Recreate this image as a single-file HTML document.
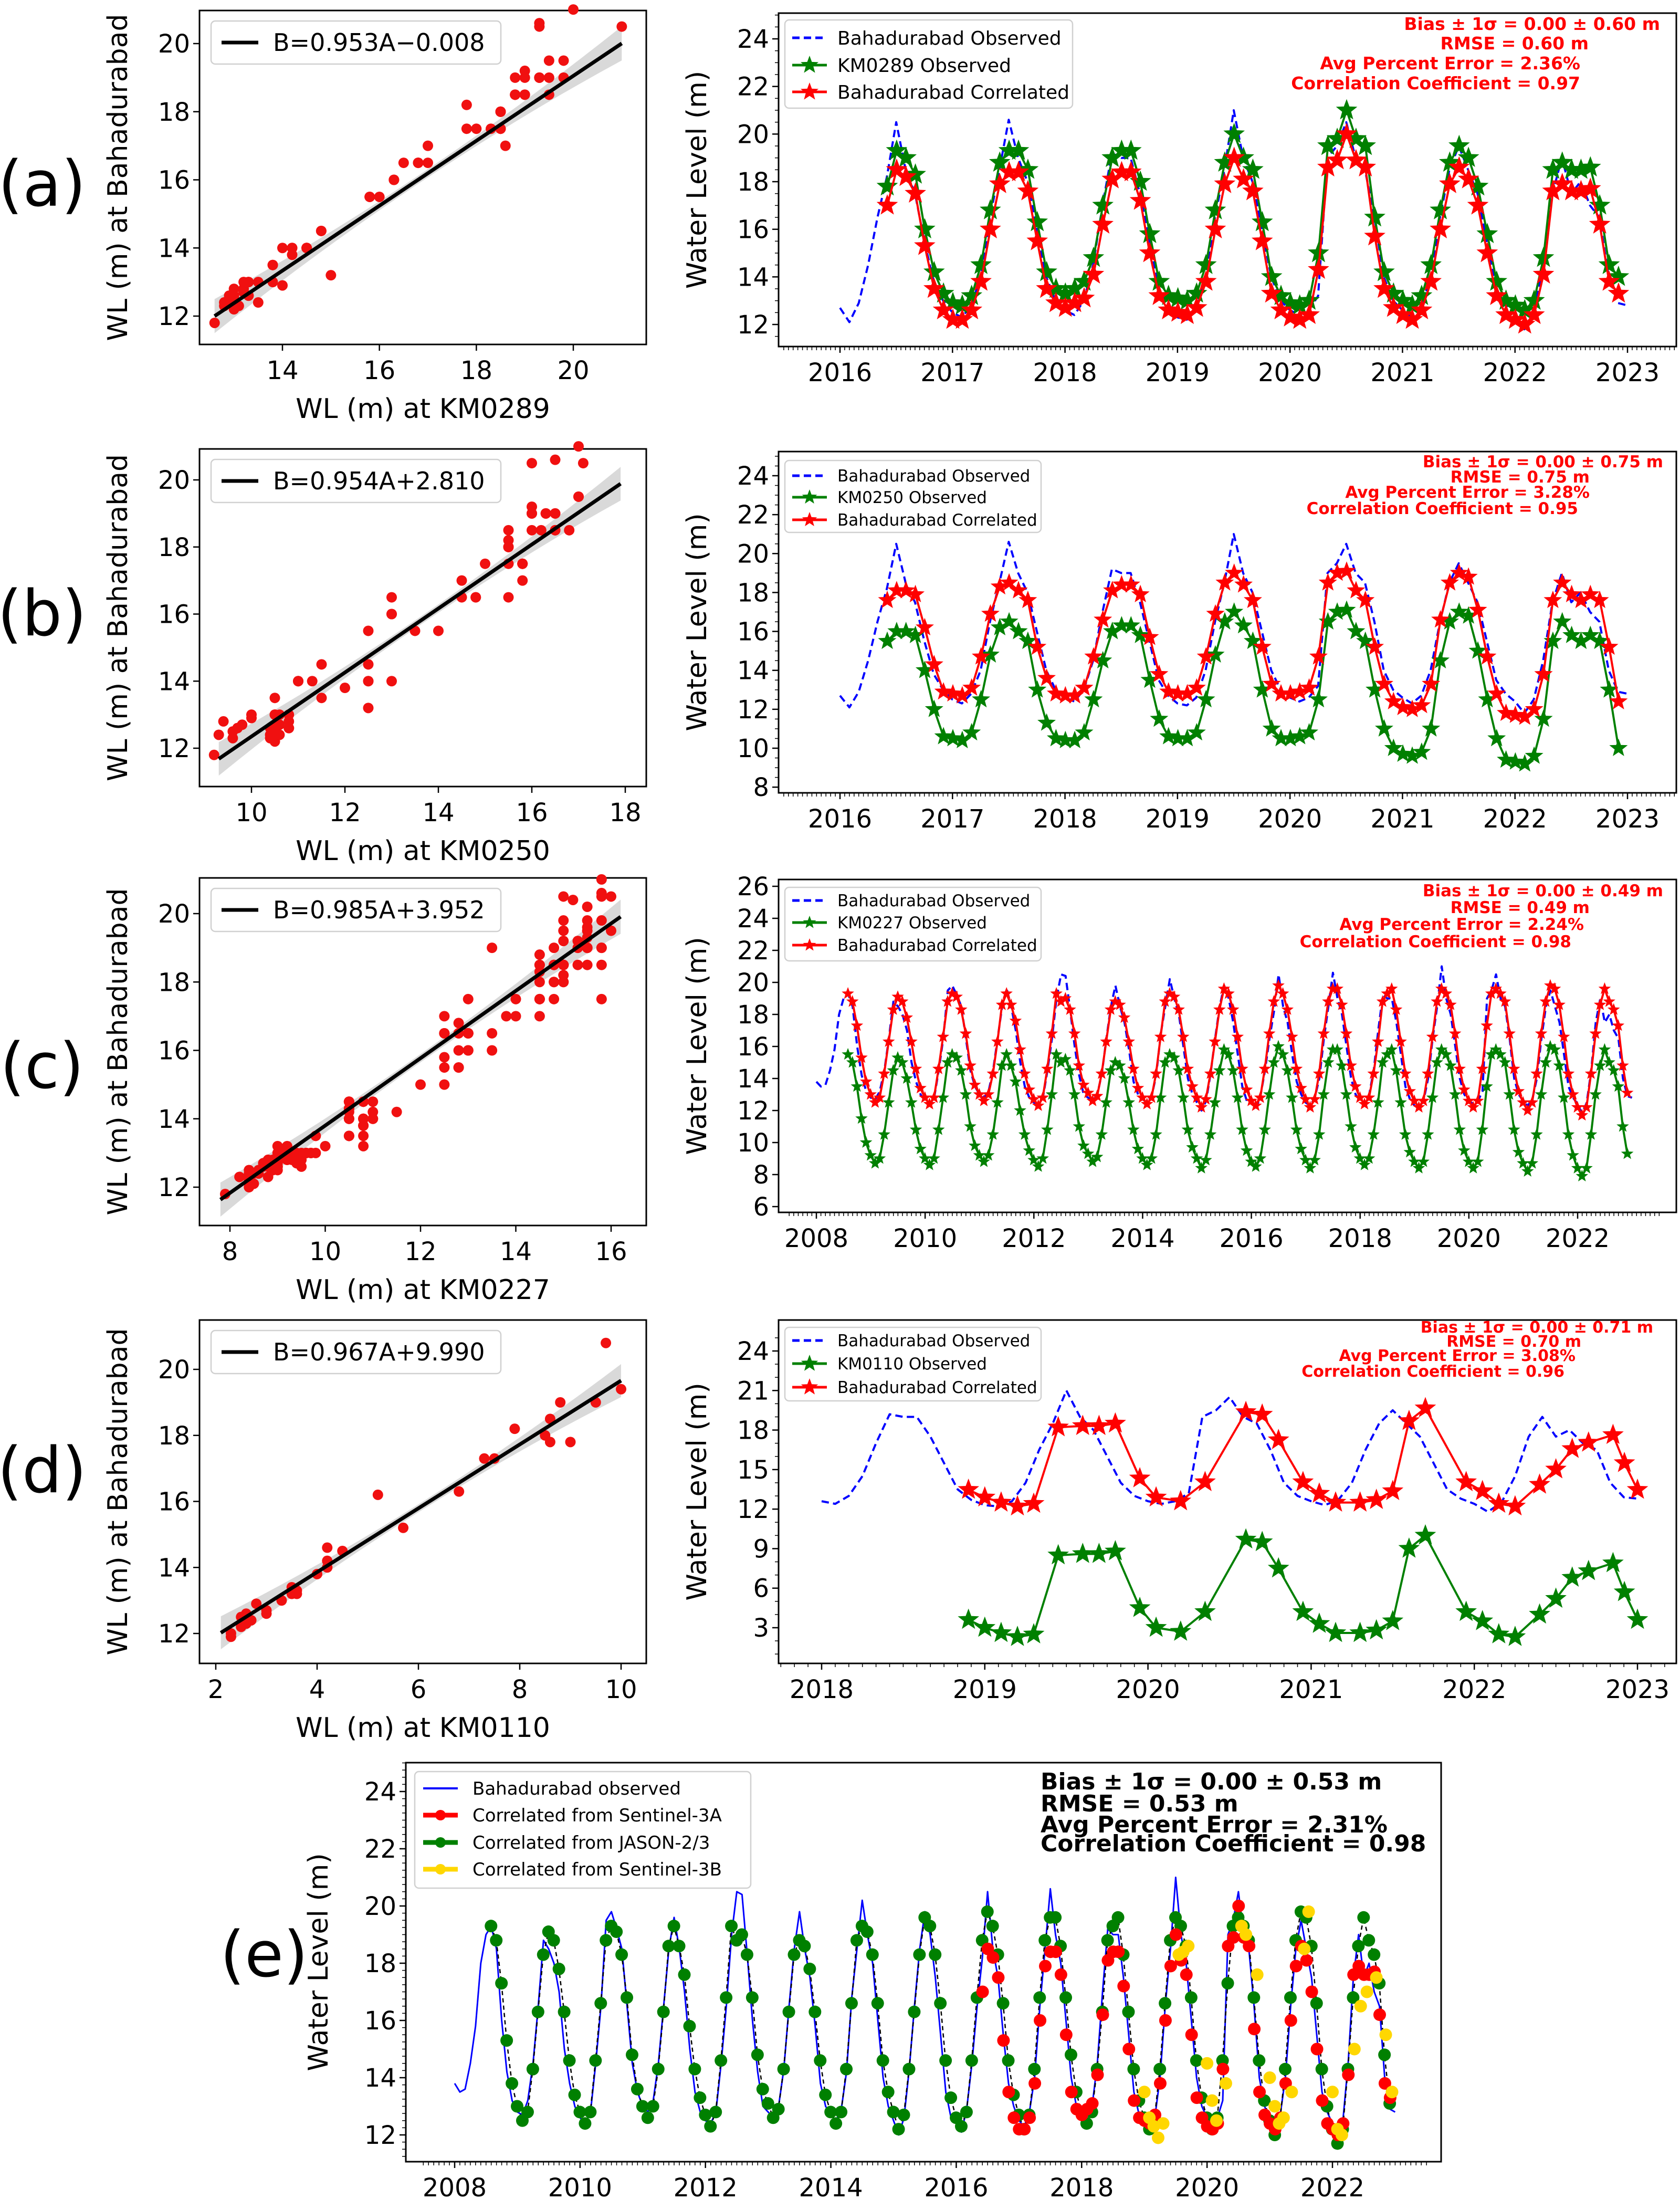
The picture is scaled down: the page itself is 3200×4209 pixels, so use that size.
<!DOCTYPE html>
<html><head><meta charset="utf-8"><title>Water level correlation figure</title>
<style>
html,body{margin:0;padding:0;background:#fff;}
svg{display:block;font-family:"DejaVu Sans","Liberation Sans",sans-serif;}
</style></head>
<body>
<svg id="fig" width="3200" height="4209" viewBox="0 0 3200 4209" xmlns="http://www.w3.org/2000/svg">
<rect x="0" y="0" width="3200" height="4209" fill="#fff"/>
</svg>
<script>
// ---------- DATA ----------
const bahaStart = 2008.0;
const bahaObs = [
13.8,13.5,13.6,14.5,15.8,18.0,19.0,19.3,18.5,16.0,14.2,13.2,
12.8,12.7,13.2,14.5,16.5,18.8,18.5,18.0,17.0,15.0,13.8,13.0,
12.6,12.4,12.8,14.5,16.5,19.5,19.8,19.2,18.5,16.5,14.5,13.5,
13.0,12.8,13.2,14.5,16.5,18.5,19.6,18.5,17.0,15.0,13.5,12.8,
12.5,12.4,12.8,14.5,16.5,19.0,20.5,20.4,18.3,16.0,14.2,13.0,
12.8,12.6,13.0,14.3,16.5,18.5,19.8,18.5,17.5,15.8,13.8,13.0,
12.7,12.5,12.9,14.2,16.8,18.5,20.2,19.0,18.0,16.0,14.0,13.0,
12.5,12.0,12.6,14.3,16.5,18.5,19.8,19.0,17.5,15.5,13.5,12.6,
12.7,12.1,12.9,14.5,16.5,18.2,20.5,18.5,17.5,15.5,13.8,13.0,
12.5,12.3,12.8,14.0,16.5,18.5,20.6,19.0,18.0,16.0,14.0,13.0,
12.6,12.4,13.0,14.5,17.0,19.2,19.0,19.0,17.5,15.5,13.5,12.7,
12.3,12.2,12.6,14.0,16.5,18.5,21.0,19.0,18.0,16.0,14.0,13.0,
12.6,12.4,12.6,13.2,19.0,19.5,20.5,19.0,18.5,16.5,14.0,13.0,
12.6,12.3,12.7,14.0,16.5,18.5,19.5,18.5,17.5,15.5,13.5,12.8,
12.4,11.8,12.5,14.5,17.5,19.0,17.5,18.0,17.0,16.5,14.0,12.9,
12.8];

const aStart = 2016.42;
const km0289Obs = [17.8,19.3,19.0,18.3,16.0,14.2,13.3,
12.9,12.8,13.2,14.5,16.8,18.8,19.3,19.3,18.5,16.3,14.2,13.5,
13.3,13.5,13.8,14.8,17.0,19.0,19.3,19.3,18.0,15.8,13.8,13.2,
13.1,13.0,13.3,14.5,16.8,18.8,20.0,19.0,18.5,16.3,14.0,13.2,
12.9,12.8,13.0,15.0,19.5,19.8,21.0,19.8,19.5,16.5,14.2,13.3,
13.0,12.8,13.2,14.5,16.8,18.8,19.5,19.0,17.8,15.8,13.8,13.0,
12.8,12.6,13.0,14.8,18.5,18.8,18.5,18.5,18.6,17.0,14.5,14.0];
const bahaCorrA = [17.0,18.5,18.2,17.5,15.3,13.5,12.6,
12.2,12.2,12.6,13.8,16.0,17.9,18.4,18.4,17.6,15.5,13.5,12.9,
12.7,12.9,13.1,14.1,16.2,18.1,18.4,18.4,17.2,15.0,13.2,12.6,
12.5,12.4,12.7,13.8,16.0,17.9,19.0,18.1,17.6,15.5,13.3,12.6,
12.3,12.2,12.4,14.3,18.6,18.9,20.0,18.9,18.6,15.7,13.5,12.7,
12.4,12.2,12.6,13.8,16.0,17.9,18.6,18.1,17.0,15.0,13.2,12.4,
12.2,12.0,12.4,14.1,17.6,17.9,17.6,17.6,17.7,16.2,13.8,13.3];
const aFit = [0.953, -0.008];

const km0250Obs = [15.5,16.0,16.0,15.8,14.0,12.0,10.6,
10.5,10.4,10.8,12.5,14.8,16.2,16.5,16.0,15.5,13.0,11.3,10.5,
10.4,10.4,10.8,12.5,14.5,16.0,16.3,16.3,15.8,13.5,11.5,10.6,
10.5,10.5,10.8,12.5,14.8,16.5,17.0,16.3,15.5,13.0,11.0,10.5,
10.5,10.6,10.8,12.5,16.5,17.0,17.1,16.0,15.5,13.0,11.0,10.0,
9.7,9.6,9.8,11.0,14.5,16.5,17.0,16.8,15.0,12.5,10.5,9.4,
9.3,9.2,9.6,11.5,15.5,16.5,15.8,15.5,15.8,15.5,13.0,10.0];
const bahaCorrB = [17.6,18.1,18.1,17.9,16.2,14.3,12.9,
12.8,12.7,13.1,14.7,16.9,18.3,18.5,18.1,17.6,15.2,13.6,12.8,
12.7,12.7,13.1,14.7,16.6,18.1,18.4,18.4,17.9,15.7,13.8,12.9,
12.8,12.8,13.1,14.7,16.9,18.5,19.0,18.4,17.6,15.2,13.3,12.8,
12.8,12.9,13.1,14.7,18.5,19.0,19.1,18.1,17.6,15.2,13.3,12.4,
12.1,12.0,12.2,13.3,16.6,18.5,19.0,18.8,17.1,14.7,12.8,11.8,
11.7,11.6,12.0,13.8,17.6,18.5,17.9,17.6,17.9,17.6,15.2,12.4];
const bFit = [0.954, 2.810];

const cStart = 2008.58;
const km0227Obs = [15.5,15.0,13.5,11.5,10.0,
9.2,8.7,9.0,10.5,12.5,14.5,15.3,15.0,14.0,12.5,10.8,9.6,
9.0,8.6,9.0,10.8,12.8,15.0,15.5,15.3,14.5,13.0,11.0,9.8,
9.2,8.8,9.2,10.5,12.5,14.8,15.5,14.8,13.8,12.0,10.5,9.5,
8.9,8.5,9.0,10.8,13.0,15.5,15.0,15.2,14.5,13.0,11.0,9.8,
9.3,8.8,9.1,10.5,12.5,14.5,15.0,14.8,14.0,12.5,10.8,9.6,
9.0,8.6,9.0,10.5,12.8,15.0,15.5,15.3,14.5,12.8,10.8,9.7,
9.0,8.4,8.9,10.5,12.5,14.5,15.8,15.5,14.5,12.8,10.8,9.5,
8.8,8.5,9.0,10.8,13.0,15.0,16.0,15.5,14.5,12.8,10.8,9.6,
8.9,8.4,8.9,10.5,13.0,15.0,15.8,15.8,14.8,13.0,11.0,9.7,
9.0,8.6,9.0,10.5,12.5,15.0,15.5,15.8,14.5,12.5,10.5,9.4,
8.8,8.4,8.8,10.5,12.8,15.0,15.8,15.5,14.8,13.0,10.8,9.5,
8.8,8.4,8.8,10.8,13.5,15.5,15.8,15.5,15.0,13.0,10.8,9.4,
8.7,8.2,8.7,10.5,13.0,15.0,16.0,15.8,14.8,12.8,10.5,9.2,
8.4,7.9,8.4,10.5,13.0,14.8,15.8,15.0,14.5,13.5,11.0,9.3];
const bahaCorrC = [19.3,18.8,17.3,15.3,13.8,
13.0,12.5,12.8,14.3,16.3,18.3,19.1,18.8,17.8,16.3,14.6,13.4,
12.8,12.4,12.8,14.6,16.6,18.8,19.3,19.1,18.3,16.8,14.8,13.6,
13.0,12.6,13.0,14.3,16.3,18.6,19.3,18.6,17.6,15.8,14.3,13.3,
12.7,12.3,12.8,14.6,16.8,19.3,18.8,19.0,18.3,16.8,14.8,13.6,
13.1,12.6,12.9,14.3,16.3,18.3,18.8,18.6,17.8,16.3,14.6,13.4,
12.8,12.4,12.8,14.3,16.6,18.8,19.3,19.1,18.3,16.6,14.6,13.5,
12.8,12.2,12.7,14.3,16.3,18.3,19.6,19.3,18.3,16.6,14.6,13.3,
12.6,12.3,12.8,14.6,16.8,18.8,19.8,19.3,18.3,16.6,14.6,13.4,
12.7,12.2,12.7,14.3,16.8,18.8,19.6,19.6,18.6,16.8,14.8,13.5,
12.8,12.4,12.8,14.3,16.3,18.8,19.3,19.6,18.3,16.3,14.3,13.2,
12.6,12.2,12.6,14.3,16.6,18.8,19.6,19.3,18.6,16.8,14.6,13.3,
12.6,12.2,12.6,14.6,17.3,19.3,19.6,19.3,18.8,16.8,14.6,13.2,
12.5,12.0,12.5,14.3,16.8,18.8,19.8,19.6,18.6,16.6,14.3,13.0,
12.2,11.7,12.2,14.3,16.8,18.6,19.6,18.8,18.3,17.3,14.8,13.1];
const cFit = [0.985, 3.952];

const dDates = [2018.9,2019.0,2019.1,2019.2,2019.3,2019.45,2019.6,2019.7,2019.8,2019.95,2020.05,2020.2,2020.35,2020.6,2020.7,2020.8,2020.95,2021.05,2021.15,2021.3,2021.4,2021.5,2021.6,2021.7,2021.95,2022.05,2022.15,2022.25,2022.4,2022.5,2022.6,2022.7,2022.85,2022.92,2023.0];
const km0110Obs = [3.6,3.0,2.6,2.3,2.5,8.5,8.6,8.6,8.8,4.5,3.0,2.7,4.2,9.7,9.5,7.5,4.2,3.3,2.6,2.6,2.8,3.5,9.0,10.0,4.2,3.5,2.5,2.3,4.0,5.2,6.8,7.3,7.9,5.7,3.6];
const bahaCorrD = [13.47,12.89,12.5,12.21,12.41,18.21,18.31,18.31,18.5,14.34,12.89,12.6,14.05,19.37,19.18,17.24,14.05,13.18,12.5,12.5,12.7,13.37,18.69,19.66,14.05,13.37,12.41,12.21,13.86,15.02,16.57,17.05,17.63,15.5,13.47];
// Bahadurabad observed on KM0110 pass dates (scatter y)
const bahaMatchD = [13.2,12.7,12.3,11.9,12.5,18.0,18.5,17.8,19.0,14.5,12.6,12.4,14.0,20.8,19.0,17.3,14.2,13.0,12.3,12.6,12.9,13.4,17.8,19.4,14.6,13.2,12.2,12.0,13.8,16.2,16.3,17.3,18.2,15.2,13.3];
const dFit = [0.967, 9.990];

const s3bDates = [2019.0,2019.08,2019.15,2019.22,2019.3,2019.55,2019.62,2019.7,2020.0,2020.08,2020.15,2020.3,2020.55,2020.62,2020.8,2021.0,2021.08,2021.15,2021.22,2021.35,2021.55,2021.62,2022.0,2022.08,2022.15,2022.35,2022.45,2022.55,2022.7,2022.85,2022.95];
const s3bCorr = [13.5,12.6,12.3,11.9,12.4,18.3,18.4,18.6,14.5,13.2,12.5,13.8,19.3,19.0,17.6,14.0,13.0,12.4,12.6,13.5,18.5,19.8,13.5,12.2,12.0,15.0,16.5,17.0,17.5,15.5,13.5];

// ---------- DRAWING ----------
const NS = 'http://www.w3.org/2000/svg';
const svg = document.getElementById('fig');
function mk(tag, attrs, name, parent){
  const el = document.createElementNS(NS, tag);
  for (const k in attrs) el.setAttribute(k, attrs[k]);
  
  
  (parent || svg).appendChild(el);
  return el;
}
function txt(x, y, s, size, name, opts){
  opts = opts || {};
  const el = mk('text', {x:x, y:y, 'font-size':size, fill:opts.fill||'#000', 'text-anchor':opts.anchor||'start',
    'font-weight':opts.weight||'normal', transform:opts.transform||''}, name);
  el.textContent = s;
  return el;
}
function lin(v0,p0,v1,p1){ return v => p0 + (v - v0) * (p1 - p0) / (v1 - v0); }
function starPts(cx, cy, r){
  let p = [];
  for (let i = 0; i < 10; i++){
    const rr = i % 2 ? r * 0.42 : r;
    const a = -Math.PI/2 + i * Math.PI / 5;
    p.push((cx + rr*Math.cos(a)).toFixed(1) + ',' + (cy + rr*Math.sin(a)).toFixed(1));
  }
  return p.join(' ');
}
function monthlyTimes(start, n){ const t=[]; for(let i=0;i<n;i++) t.push(start + i/12); return t; }
function bahaAt(t){ const i = Math.round((t - bahaStart) * 12); return bahaObs[Math.max(0, Math.min(bahaObs.length-1, i))]; }

function axes(box, xticks, sx, yticks, sy, opts, name){
  const g = mk('g', {}, name);
  mk('rect', {x:box[0], y:box[1], width:box[2]-box[0], height:box[3]-box[1], fill:'none', stroke:'#000', 'stroke-width':3}, name + '-frame', g);
  xticks.forEach(v => {
    const x = sx(v);
    mk('line', {x1:x, y1:box[3], x2:x, y2:box[3]+12, stroke:'#000', 'stroke-width':2.5}, 'x-tick', g);
    txt(x, box[3] + 66, String(v), opts.fs || 48, 'x-tick-label', {anchor:'middle'});
  });
  yticks.forEach(v => {
    const y = sy(v);
    mk('line', {x1:box[0]-12, y1:y, x2:box[0], y2:y, stroke:'#000', 'stroke-width':2.5}, 'y-tick', g);
    txt(box[0] - 18, y + 17, String(v), opts.fs || 48, 'y-tick-label', {anchor:'end'});
  });
  if (opts.minor){
    for (let t = opts.minor[0]; t <= opts.minor[1] + 1e-6; t += opts.minor[2]){
      const x = sx(t);
      if (x < box[0] || x > box[2]) continue;
      mk('line', {x1:x, y1:box[3], x2:x, y2:box[3]+7, stroke:'#000', 'stroke-width':1.5}, 'x-minor-tick', g);
    }
  }
  if (opts.yminor){
    for (let v = opts.yminor[0]; v <= opts.yminor[1] + 1e-6; v += opts.yminor[2]){
      const y = sy(v);
      if (y < box[1] || y > box[3]) continue;
      mk('line', {x1:box[0]-7, y1:y, x2:box[0], y2:y, stroke:'#000', 'stroke-width':1.5}, 'y-minor-tick', g);
    }
  }
  if (opts.xlabel) txt((box[0]+box[2])/2, box[3] + 140, opts.xlabel, 52, 'x-axis-title', {anchor:'middle'});
  if (opts.ylabel){
    const cx = box[0] - (opts.ylOff || 138), cy = (box[1]+box[3])/2;
    txt(cx, cy, opts.ylabel, 52, 'y-axis-title', {anchor:'middle', transform:'rotate(-90 ' + cx + ' ' + cy + ')'});
  }
  return g;
}
function polyline(ts, vs, sx, sy, color, w, dash, name, box){
  const pts = [];
  for (let i = 0; i < ts.length; i++){
    const x = sx(ts[i]);
    if (box && (x < box[0] || x > box[2])) continue;
    pts.push(x.toFixed(1) + ',' + sy(vs[i]).toFixed(1));
  }
  return mk('polyline', {points:pts.join(' '), fill:'none', stroke:color, 'stroke-width':w, 'stroke-dasharray':dash||'none', 'stroke-linejoin':'round'}, name);
}
function stars(ts, vs, sx, sy, color, r, name, box){
  const g = mk('g', {}, name);
  for (let i = 0; i < ts.length; i++){
    const x = sx(ts[i]);
    if (box && (x < box[0] || x > box[2])) continue;
    mk('polygon', {points:starPts(x, sy(vs[i]), r), fill:color, stroke:color, 'stroke-width':1}, name + '-marker', g);
  }
}
function dots(ts, vs, sx, sy, color, r, name){
  const g = mk('g', {}, name);
  for (let i = 0; i < ts.length; i++){
    mk('circle', {cx:sx(ts[i]), cy:sy(vs[i]), r:r, fill:color}, name + '-point', g);
  }
}
function scatterPanel(box, sx, sy, xs, ys, fit, xr, xticks, yticks, xlabel, legendText, name){
  axes(box, xticks, sx, yticks, sy, {xlabel:xlabel, ylabel:'WL (m) at Bahadurabad'}, name + '-axes');
  const up = [], dn = [];
  const mid = (xr[0] + xr[1]) / 2, half = (xr[1] - xr[0]) / 2;
  for (let k = 0; k <= 20; k++){
    const xv = xr[0] + (xr[1]-xr[0]) * k / 20;
    const u = (xv - mid) / half;
    const w = 0.12 + 0.38 * u * u;
    const yv = fit[0] * xv + fit[1];
    up.push(sx(xv).toFixed(1) + ',' + sy(yv + w).toFixed(1));
    dn.unshift(sx(xv).toFixed(1) + ',' + sy(yv - w).toFixed(1));
  }
  mk('polygon', {points:up.concat(dn).join(' '), fill:'#cfcfcf', opacity:0.8}, name + '-confidence-band');
  dots(xs, ys, sx, sy, '#f01010', 10, name + '-points');
  mk('line', {x1:sx(xr[0]), y1:sy(fit[0]*xr[0]+fit[1]), x2:sx(xr[1]), y2:sy(fit[0]*xr[1]+fit[1]), stroke:'#000', 'stroke-width':7}, name + '-regression-line');
  const lg = mk('g', {}, name + '-legend');
  mk('rect', {x:box[0]+22, y:box[1]+20, width:552, height:82, rx:8, fill:'#fff', stroke:'#d0d0d0', 'stroke-width':2.5}, name + '-legend-box', lg);
  mk('line', {x1:box[0]+42, y1:box[1]+61, x2:box[0]+112, y2:box[1]+61, stroke:'#000', 'stroke-width':7}, name + '-legend-line', lg);
  txt(box[0]+140, box[1]+77, legendText, 46, name + '-legend-text');
}
function legendTS(x, y, w, h, labels, ys, fs, mr, name){
  const g = mk('g', {}, name);
  mk('rect', {x:x, y:y, width:w, height:h, rx:8, fill:'#fff', stroke:'#d0d0d0', 'stroke-width':2.5}, name + '-box', g);
  const cols = ['#0000ff', '#008000', '#ff0000'];
  labels.forEach((lab, i) => {
    const yy = ys[i];
    if (i === 0){
      mk('line', {x1:x+14, y1:yy, x2:x+80, y2:yy, stroke:cols[0], 'stroke-width':5, 'stroke-dasharray':'14 8'}, 'legend-blue-line', g);
    } else {
      mk('line', {x1:x+14, y1:yy, x2:x+80, y2:yy, stroke:cols[i], 'stroke-width':5}, 'legend-line', g);
      mk('polygon', {points:starPts(x+47, yy, mr), fill:cols[i]}, 'legend-star', g);
    }
    txt(x + 100, yy + fs*0.36, lab, fs, 'legend-entry');
  });
}
function stats(lines, ends, ys, fs, color, name, anchor){
  const g = mk('g', {}, name);
  lines.forEach((s, i) => {
    txt(ends[i], ys[i], s, fs, 'stats-line', {anchor:anchor||'end', weight:'bold', fill:color});
  });
}

[['(a)',80,350],['(b)',80,1168],['(c)',80,2030],['(d)',80,2800],['(e)',503,3722]].forEach(p => {
  txt(p[1], p[2] + 42, p[0], 120, 'panel-label', {anchor:'middle'});
});

const tA = monthlyTimes(aStart, km0289Obs.length);
(function(){
  const box = [380,20,1231,656];
  const sx = lin(14,538,20,1092), sy = lin(20,83,12,602);
  scatterPanel(box, sx, sy, km0289Obs, tA.map(bahaAt), aFit, [12.6,21.0], [14,16,18,20], [12,14,16,18,20], 'WL (m) at KM0289', 'B=0.953A\u22120.008', 'scatter-a');
  const tb = [1483,25,3193,660];
  const tx = lin(2016,1600,2023,3100), ty = lin(24,74,12,618);
  axes(tb, [2016,2017,2018,2019,2020,2021,2022,2023], tx, [12,14,16,18,20,22,24], ty, {minor:[2015.5,2023.5,1/24], ylabel:'Water Level (m)', yminor:[11,25,0.5]}, 'timeseries-a-axes');
  polyline(monthlyTimes(bahaStart, bahaObs.length), bahaObs, tx, ty, '#0000ff', 4, '14 8', 'series-a-bahadurabad-observed', [1600,3193]);
  polyline(tA, km0289Obs, tx, ty, '#008000', 4, null, 'series-a-km0289-line');
  stars(tA, km0289Obs, tx, ty, '#008000', 20, 'series-a-km0289-markers');
  polyline(tA, bahaCorrA, tx, ty, '#ff0000', 4, null, 'series-a-correlated-line');
  stars(tA, bahaCorrA, tx, ty, '#ff0000', 20, 'series-a-correlated-markers');
  legendTS(1495, 38, 548, 168, ['Bahadurabad Observed','KM0289 Observed','Bahadurabad Correlated'], [72,124,175], 36, 18, 'legend-a');
  stats(['Bias \u00b1 1\u03c3 = 0.00 \u00b1 0.60 m','RMSE = 0.60 m','Avg Percent Error = 2.36%','Correlation Coefficient = 0.97'], [3162,3026,3010,3010], [57,94,132,170], 33, '#ff0000', 'stats-a');
})();

(function(){
  const box = [380,855,1231,1498];
  const sx = lin(10,479,18,1191), sy = lin(20,914,12,1425);
  scatterPanel(box, sx, sy, km0250Obs, tA.map(bahaAt), bFit, [9.3,17.9], [10,12,14,16,18], [12,14,16,18,20], 'WL (m) at KM0250', 'B=0.954A+2.810', 'scatter-b');
  const tb = [1483,860,3193,1510];
  const tx = lin(2016,1600,2023,3100), ty = lin(24,906,10,1425);
  axes(tb, [2016,2017,2018,2019,2020,2021,2022,2023], tx, [8,10,12,14,16,18,20,22,24], ty, {minor:[2015.5,2023.5,1/24], ylabel:'Water Level (m)', yminor:[8,25,0.5]}, 'timeseries-b-axes');
  polyline(monthlyTimes(bahaStart, bahaObs.length), bahaObs, tx, ty, '#0000ff', 4, '14 8', 'series-b-bahadurabad-observed', [1600,3193]);
  polyline(tA, km0250Obs, tx, ty, '#008000', 4, null, 'series-b-km0250-line');
  stars(tA, km0250Obs, tx, ty, '#008000', 17, 'series-b-km0250-markers');
  polyline(tA, bahaCorrB, tx, ty, '#ff0000', 4, null, 'series-b-correlated-line');
  stars(tA, bahaCorrB, tx, ty, '#ff0000', 17, 'series-b-correlated-markers');
  legendTS(1495, 877, 488, 137, ['Bahadurabad Observed','KM0250 Observed','Bahadurabad Correlated'], [906,947,990], 31, 15, 'legend-b');
  stats(['Bias \u00b1 1\u03c3 = 0.00 \u00b1 0.75 m','RMSE = 0.75 m','Avg Percent Error = 3.28%','Correlation Coefficient = 0.95'], [3168,3028,3028,3006], [890,919,948,979], 31, '#ff0000', 'stats-b');
})();

const tC = monthlyTimes(cStart, km0227Obs.length);
(function(){
  const box = [380,1672,1231,2334];
  const sx = lin(8,438,16,1164), sy = lin(20,1740,12,2261);
  scatterPanel(box, sx, sy, km0227Obs, tC.map(bahaAt), cFit, [7.8,16.2], [8,10,12,14,16], [12,14,16,18,20], 'WL (m) at KM0227', 'B=0.985A+3.952', 'scatter-c');
  const tb = [1483,1675,3193,2309];
  const tx = lin(2008,1555,2022,3005), ty = lin(26,1688,6,2298);
  axes(tb, [2008,2010,2012,2014,2016,2018,2020,2022], tx, [6,8,10,12,14,16,18,20,22,24,26], ty, {minor:[2007.5,2023.5,1/12], ylabel:'Water Level (m)'}, 'timeseries-c-axes');
  polyline(monthlyTimes(bahaStart, bahaObs.length), bahaObs, tx, ty, '#0000ff', 4, '14 8', 'series-c-bahadurabad-observed');
  polyline(tC, km0227Obs, tx, ty, '#008000', 4, null, 'series-c-km0227-line');
  stars(tC, km0227Obs, tx, ty, '#008000', 11, 'series-c-km0227-markers');
  polyline(tC, bahaCorrC, tx, ty, '#ff0000', 4, null, 'series-c-correlated-line');
  stars(tC, bahaCorrC, tx, ty, '#ff0000', 11, 'series-c-correlated-markers');
  legendTS(1495, 1690, 488, 140, ['Bahadurabad Observed','KM0227 Observed','Bahadurabad Correlated'], [1715,1757,1800], 31, 13, 'legend-c');
  stats(['Bias \u00b1 1\u03c3 = 0.00 \u00b1 0.49 m','RMSE = 0.49 m','Avg Percent Error = 2.24%','Correlation Coefficient = 0.98'], [3168,3028,3017,2993], [1707,1739,1771,1804], 31, '#ff0000', 'stats-c');
})();

(function(){
  const box = [380,2514,1231,3168];
  const sx = lin(2,411,10,1183), sy = lin(20,2608,12,3111);
  scatterPanel(box, sx, sy, km0110Obs, bahaMatchD, dFit, [2.1,10.0], [2,4,6,8,10], [12,14,16,18,20], 'WL (m) at KM0110', 'B=0.967A+9.990', 'scatter-d');
  const tb = [1483,2514,3193,3168];
  const tx = lin(2018,1565,2023,3119), ty = lin(24,2573,3,3100);
  axes(tb, [2018,2019,2020,2021,2022,2023], tx, [3,6,9,12,15,18,21,24], ty, {minor:[2017.75,2023.25,1/12], ylabel:'Water Level (m)', yminor:[1,25,1]}, 'timeseries-d-axes');
  polyline(monthlyTimes(bahaStart, bahaObs.length), bahaObs, tx, ty, '#0000ff', 4, '14 8', 'series-d-bahadurabad-observed', [1565,3193]);
  polyline(dDates, km0110Obs, tx, ty, '#008000', 4, null, 'series-d-km0110-line');
  stars(dDates, km0110Obs, tx, ty, '#008000', 20, 'series-d-km0110-markers');
  polyline(dDates, bahaCorrD, tx, ty, '#ff0000', 4, null, 'series-d-correlated-line');
  stars(dDates, bahaCorrD, tx, ty, '#ff0000', 20, 'series-d-correlated-markers');
  legendTS(1495, 2528, 488, 140, ['Bahadurabad Observed','KM0110 Observed','Bahadurabad Correlated'], [2553,2597,2642], 31, 17, 'legend-d');
  stats(['Bias \u00b1 1\u03c3 = 0.00 \u00b1 0.71 m','RMSE = 0.70 m','Avg Percent Error = 3.08%','Correlation Coefficient = 0.96'], [3149,3012,3001,2980], [2538,2565,2592,2622], 30, '#ff0000', 'stats-d');
})();

(function(){
  const box = [773,3357,2745,4117];
  const tx = lin(2008,866,2022,2538), ty = lin(24,3412,12,4066);
  axes(box, [2008,2010,2012,2014,2016,2018,2020,2022], tx, [12,14,16,18,20,22,24], ty, {minor:[2007.5,2023.5,1/12], ylabel:'Water Level (m)', ylOff:149, yminor:[11,25,0.25]}, 'timeseries-e-axes');
  polyline(monthlyTimes(bahaStart, bahaObs.length), bahaObs, tx, ty, '#0000ff', 3, null, 'series-e-bahadurabad-observed');
  polyline(tC, bahaCorrC, tx, ty, '#000', 2.5, '8 6', 'series-e-correlated-connector');
  dots(tC, bahaCorrC, tx, ty, '#008000', 12, 'series-e-jason');
  dots(tA, bahaCorrA, tx, ty, '#ff0000', 12, 'series-e-sentinel3a');
  dots(s3bDates, s3bCorr, tx, ty, '#ffd700', 12, 'series-e-sentinel3b');
  const g = mk('g', {}, 'legend-e');
  mk('rect', {x:790, y:3374, width:640, height:222, rx:8, fill:'#fff', stroke:'#d0d0d0', 'stroke-width':2.5}, 'legend-e-box', g);
  const cols = ['#0000ff','#ff0000','#008000','#ffd700'];
  const labs = ['Bahadurabad observed','Correlated from Sentinel-3A','Correlated from JASON-2/3','Correlated from Sentinel-3B'];
  const ys = [3406,3457,3509,3560];
  labs.forEach((lab, i) => {
    mk('line', {x1:806, y1:ys[i], x2:872, y2:ys[i], stroke:cols[i], 'stroke-width':i?9:4}, 'legend-e-line', g);
    if (i) mk('circle', {cx:839, cy:ys[i], r:10, fill:cols[i]}, 'legend-e-marker', g);
    txt(900, ys[i] + 12, lab, 34, 'legend-entry');
  });
  stats(['Bias \u00b1 1\u03c3 = 0.00 \u00b1 0.53 m','RMSE = 0.53 m','Avg Percent Error = 2.31%','Correlation Coefficient = 0.98'], [1982,1982,1982,1982], [3408,3450,3490,3526], 44, '#000', 'stats-e', 'start');
})();
</script>
</body></html>
